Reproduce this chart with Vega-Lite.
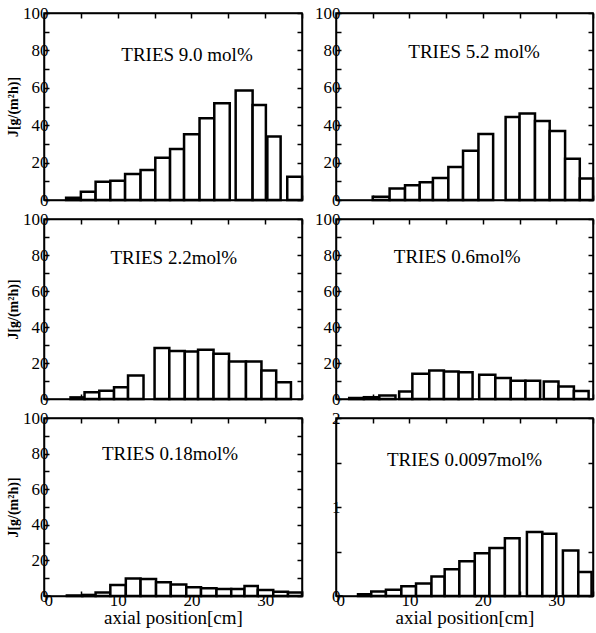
{
  "$schema": "https://vega.github.io/schema/vega-lite/v6.json",
  "padding": {"left": 5, "top": 3, "right": 0, "bottom": 0},
  "background": "white",
  "datasets": {
    "bars": [
      {"panel": "p1", "x0": 3.0, "x1": 5.0, "J": 1.2},
      {"panel": "p1", "x0": 5.0, "x1": 7.0, "J": 4.4},
      {"panel": "p1", "x0": 7.0, "x1": 9.0, "J": 9.8},
      {"panel": "p1", "x0": 9.0, "x1": 11.0, "J": 10.3},
      {"panel": "p1", "x0": 11.0, "x1": 13.1, "J": 13.9},
      {"panel": "p1", "x0": 13.1, "x1": 15.1, "J": 16.0},
      {"panel": "p1", "x0": 15.1, "x1": 17.1, "J": 22.6},
      {"panel": "p1", "x0": 17.1, "x1": 19.0, "J": 27.3},
      {"panel": "p1", "x0": 19.0, "x1": 21.1, "J": 35.1},
      {"panel": "p1", "x0": 21.1, "x1": 23.1, "J": 43.7},
      {"panel": "p1", "x0": 23.1, "x1": 25.2, "J": 51.7},
      {"panel": "p1", "x0": 26.0, "x1": 28.3, "J": 58.5},
      {"panel": "p1", "x0": 28.3, "x1": 30.1, "J": 50.8},
      {"panel": "p1", "x0": 30.3, "x1": 32.1, "J": 33.9},
      {"panel": "p1", "x0": 33.0, "x1": 35.0, "J": 12.5},
      {"panel": "p2", "x0": 5.0, "x1": 7.3, "J": 1.8},
      {"panel": "p2", "x0": 7.3, "x1": 9.4, "J": 6.2},
      {"panel": "p2", "x0": 9.4, "x1": 11.4, "J": 7.9},
      {"panel": "p2", "x0": 11.4, "x1": 13.2, "J": 9.5},
      {"panel": "p2", "x0": 13.2, "x1": 15.3, "J": 11.8},
      {"panel": "p2", "x0": 15.3, "x1": 17.3, "J": 17.6},
      {"panel": "p2", "x0": 17.3, "x1": 19.4, "J": 26.3},
      {"panel": "p2", "x0": 19.4, "x1": 21.4, "J": 35.3},
      {"panel": "p2", "x0": 23.1, "x1": 25.0, "J": 44.4},
      {"panel": "p2", "x0": 25.0, "x1": 27.1, "J": 46.2},
      {"panel": "p2", "x0": 27.1, "x1": 29.1, "J": 42.2},
      {"panel": "p2", "x0": 29.1, "x1": 31.2, "J": 36.9},
      {"panel": "p2", "x0": 31.2, "x1": 33.2, "J": 22.0},
      {"panel": "p2", "x0": 33.2, "x1": 35.0, "J": 11.5},
      {"panel": "p3", "x0": 3.6, "x1": 5.5, "J": 0.9},
      {"panel": "p3", "x0": 5.5, "x1": 7.5, "J": 3.7},
      {"panel": "p3", "x0": 7.5, "x1": 9.5, "J": 4.6},
      {"panel": "p3", "x0": 9.5, "x1": 11.4, "J": 6.5},
      {"panel": "p3", "x0": 11.4, "x1": 13.5, "J": 13.0},
      {"panel": "p3", "x0": 15.0, "x1": 17.0, "J": 28.3},
      {"panel": "p3", "x0": 17.0, "x1": 19.1, "J": 26.6},
      {"panel": "p3", "x0": 19.1, "x1": 20.9, "J": 26.4},
      {"panel": "p3", "x0": 20.9, "x1": 23.0, "J": 27.3},
      {"panel": "p3", "x0": 23.0, "x1": 25.1, "J": 25.1},
      {"panel": "p3", "x0": 25.1, "x1": 27.4, "J": 20.8},
      {"panel": "p3", "x0": 27.4, "x1": 29.5, "J": 20.8},
      {"panel": "p3", "x0": 29.5, "x1": 31.5, "J": 15.8},
      {"panel": "p3", "x0": 31.5, "x1": 33.5, "J": 9.3},
      {"panel": "p4", "x0": 1.8, "x1": 3.8, "J": 0.5},
      {"panel": "p4", "x0": 3.8, "x1": 5.9, "J": 1.0},
      {"panel": "p4", "x0": 5.9, "x1": 8.1, "J": 1.9},
      {"panel": "p4", "x0": 8.6, "x1": 10.4, "J": 4.1},
      {"panel": "p4", "x0": 10.4, "x1": 12.7, "J": 14.0},
      {"panel": "p4", "x0": 12.7, "x1": 14.7, "J": 15.9},
      {"panel": "p4", "x0": 14.7, "x1": 16.7, "J": 15.3},
      {"panel": "p4", "x0": 16.7, "x1": 18.6, "J": 14.8},
      {"panel": "p4", "x0": 19.5, "x1": 21.7, "J": 13.5},
      {"panel": "p4", "x0": 21.7, "x1": 23.8, "J": 11.6},
      {"panel": "p4", "x0": 23.8, "x1": 25.8, "J": 10.1},
      {"panel": "p4", "x0": 25.8, "x1": 27.8, "J": 10.1},
      {"panel": "p4", "x0": 28.3, "x1": 30.3, "J": 9.7},
      {"panel": "p4", "x0": 30.3, "x1": 32.4, "J": 6.9},
      {"panel": "p4", "x0": 32.4, "x1": 34.4, "J": 4.5},
      {"panel": "p5", "x0": 3.1, "x1": 5.2, "J": 0.3},
      {"panel": "p5", "x0": 5.2, "x1": 7.0, "J": 0.6},
      {"panel": "p5", "x0": 7.0, "x1": 9.0, "J": 2.0},
      {"panel": "p5", "x0": 9.0, "x1": 11.1, "J": 6.2},
      {"panel": "p5", "x0": 11.1, "x1": 13.1, "J": 9.9},
      {"panel": "p5", "x0": 13.1, "x1": 15.2, "J": 9.5},
      {"panel": "p5", "x0": 15.2, "x1": 17.2, "J": 7.7},
      {"panel": "p5", "x0": 17.2, "x1": 19.3, "J": 6.5},
      {"panel": "p5", "x0": 19.3, "x1": 21.3, "J": 4.9},
      {"panel": "p5", "x0": 21.3, "x1": 23.4, "J": 4.3},
      {"panel": "p5", "x0": 23.4, "x1": 25.4, "J": 3.9},
      {"panel": "p5", "x0": 25.4, "x1": 27.2, "J": 3.9},
      {"panel": "p5", "x0": 27.2, "x1": 29.0, "J": 5.6},
      {"panel": "p5", "x0": 29.0, "x1": 31.1, "J": 3.4},
      {"panel": "p5", "x0": 31.1, "x1": 33.1, "J": 2.4},
      {"panel": "p5", "x0": 33.1, "x1": 35.0, "J": 2.0},
      {"panel": "p6", "x0": 3.0, "x1": 4.8, "J": 0.02},
      {"panel": "p6", "x0": 4.8, "x1": 6.8, "J": 0.05},
      {"panel": "p6", "x0": 6.8, "x1": 8.9, "J": 0.07},
      {"panel": "p6", "x0": 8.9, "x1": 10.9, "J": 0.11},
      {"panel": "p6", "x0": 10.9, "x1": 13.0, "J": 0.14},
      {"panel": "p6", "x0": 13.0, "x1": 14.8, "J": 0.22},
      {"panel": "p6", "x0": 14.8, "x1": 16.8, "J": 0.30},
      {"panel": "p6", "x0": 16.8, "x1": 18.9, "J": 0.39},
      {"panel": "p6", "x0": 18.9, "x1": 20.9, "J": 0.48},
      {"panel": "p6", "x0": 20.9, "x1": 23.0, "J": 0.54},
      {"panel": "p6", "x0": 23.0, "x1": 25.0, "J": 0.65},
      {"panel": "p6", "x0": 26.0, "x1": 28.1, "J": 0.72},
      {"panel": "p6", "x0": 28.1, "x1": 30.0, "J": 0.70},
      {"panel": "p6", "x0": 30.9, "x1": 33.0, "J": 0.51},
      {"panel": "p6", "x0": 33.0, "x1": 34.8, "J": 0.27}
    ],
    "labels": [
      {"panel": "p1", "label": "TRIES 9.0 mol%"},
      {"panel": "p2", "label": "TRIES 5.2 mol%"},
      {"panel": "p3", "label": "TRIES 2.2mol%"},
      {"panel": "p4", "label": "TRIES 0.6mol%"},
      {"panel": "p5", "label": "TRIES 0.18mol%"},
      {"panel": "p6", "label": "TRIES 0.0097mol%"}
    ]
  },
  "vconcat": [
    {
      "hconcat": [
        {
          "width": 258, "height": 187,
          "layer": [
            {
              "data": {"name": "bars"},
              "transform": [{"filter": "datum.panel == 'p1'"}],
              "mark": {"type": "bar", "fill": "white", "stroke": "black", "strokeWidth": 2.5},
              "encoding": {
                "x": {"field": "x0", "type": "quantitative", "scale": {"domain": [0, 35], "nice": false, "zero": false}, "axis": {"orient": "bottom", "values": [0, 5, 10, 15, 20, 25, 30, 35], "labels": false, "title": null}},
                "x2": {"field": "x1"},
                "y": {"field": "J", "type": "quantitative", "scale": {"domain": [0, 100], "nice": false}, "axis": {"orient": "left", "values": [0, 10, 20, 30, 40, 50, 60, 70, 80, 90, 100], "labelExpr": "datum.value % 20 == 0 ? datum.label : ''", "title": "J[g/(m²h)]"}},
                "y2": {"datum": 0}
              }
            },
            {
              "data": {"name": "labels"},
              "transform": [{"filter": "datum.panel == 'p1'"}],
              "mark": {"type": "text", "fontSize": 19, "font": "Liberation Serif", "color": "black"},
              "encoding": {
                "x": {"datum": 19.4, "type": "quantitative", "scale": {"domain": [0, 35], "nice": false, "zero": false}, "axis": {"orient": "top", "values": [0, 5, 10, 15, 20, 25, 30, 35], "labels": false, "title": null}},
                "y": {"datum": 77.5, "type": "quantitative", "scale": {"domain": [0, 100], "nice": false}, "axis": {"orient": "right", "values": [0, 10, 20, 30, 40, 50, 60, 70, 80, 90, 100], "labels": false, "title": null}},
                "text": {"field": "label"}
              }
            }
          ],
          "resolve": {"axis": {"x": "independent", "y": "independent"}}
        },
        {
          "width": 257, "height": 187,
          "layer": [
            {
              "data": {"name": "bars"},
              "transform": [{"filter": "datum.panel == 'p2'"}],
              "mark": {"type": "bar", "fill": "white", "stroke": "black", "strokeWidth": 2.5},
              "encoding": {
                "x": {"field": "x0", "type": "quantitative", "scale": {"domain": [0, 35], "nice": false, "zero": false}, "axis": {"orient": "bottom", "values": [0, 5, 10, 15, 20, 25, 30, 35], "labels": false, "title": null}},
                "x2": {"field": "x1"},
                "y": {"field": "J", "type": "quantitative", "scale": {"domain": [0, 100], "nice": false}, "axis": {"orient": "left", "values": [0, 10, 20, 30, 40, 50, 60, 70, 80, 90, 100], "labelExpr": "datum.value % 20 == 0 ? datum.label : ''", "title": null, "minExtent": 28, "maxExtent": 28}},
                "y2": {"datum": 0}
              }
            },
            {
              "data": {"name": "labels"},
              "transform": [{"filter": "datum.panel == 'p2'"}],
              "mark": {"type": "text", "fontSize": 19, "font": "Liberation Serif", "color": "black"},
              "encoding": {
                "x": {"datum": 18.8, "type": "quantitative", "scale": {"domain": [0, 35], "nice": false, "zero": false}, "axis": {"orient": "top", "values": [0, 5, 10, 15, 20, 25, 30, 35], "labels": false, "title": null}},
                "y": {"datum": 79, "type": "quantitative", "scale": {"domain": [0, 100], "nice": false}, "axis": {"orient": "right", "values": [0, 10, 20, 30, 40, 50, 60, 70, 80, 90, 100], "labels": false, "title": null}},
                "text": {"field": "label"}
              }
            }
          ],
          "resolve": {"axis": {"x": "independent", "y": "independent"}}
        }
      ]
    },
    {
      "hconcat": [
        {
          "width": 258, "height": 180,
          "layer": [
            {
              "data": {"name": "bars"},
              "transform": [{"filter": "datum.panel == 'p3'"}],
              "mark": {"type": "bar", "fill": "white", "stroke": "black", "strokeWidth": 2.5},
              "encoding": {
                "x": {"field": "x0", "type": "quantitative", "scale": {"domain": [0, 35], "nice": false, "zero": false}, "axis": {"orient": "bottom", "values": [0, 5, 10, 15, 20, 25, 30, 35], "labels": false, "title": null}},
                "x2": {"field": "x1"},
                "y": {"field": "J", "type": "quantitative", "scale": {"domain": [0, 100], "nice": false}, "axis": {"orient": "left", "values": [0, 10, 20, 30, 40, 50, 60, 70, 80, 90, 100], "labelExpr": "datum.value % 20 == 0 ? datum.label : ''", "title": "J[g/(m²h)]"}},
                "y2": {"datum": 0}
              }
            },
            {
              "data": {"name": "labels"},
              "transform": [{"filter": "datum.panel == 'p3'"}],
              "mark": {"type": "text", "fontSize": 19, "font": "Liberation Serif", "color": "black"},
              "encoding": {
                "x": {"datum": 17.6, "type": "quantitative", "scale": {"domain": [0, 35], "nice": false, "zero": false}, "axis": {"orient": "top", "values": [0, 5, 10, 15, 20, 25, 30, 35], "labels": false, "title": null}},
                "y": {"datum": 78.5, "type": "quantitative", "scale": {"domain": [0, 100], "nice": false}, "axis": {"orient": "right", "values": [0, 10, 20, 30, 40, 50, 60, 70, 80, 90, 100], "labels": false, "title": null}},
                "text": {"field": "label"}
              }
            }
          ],
          "resolve": {"axis": {"x": "independent", "y": "independent"}}
        },
        {
          "width": 257, "height": 180,
          "layer": [
            {
              "data": {"name": "bars"},
              "transform": [{"filter": "datum.panel == 'p4'"}],
              "mark": {"type": "bar", "fill": "white", "stroke": "black", "strokeWidth": 2.5},
              "encoding": {
                "x": {"field": "x0", "type": "quantitative", "scale": {"domain": [0, 35], "nice": false, "zero": false}, "axis": {"orient": "bottom", "values": [0, 5, 10, 15, 20, 25, 30, 35], "labels": false, "title": null}},
                "x2": {"field": "x1"},
                "y": {"field": "J", "type": "quantitative", "scale": {"domain": [0, 100], "nice": false}, "axis": {"orient": "left", "values": [0, 10, 20, 30, 40, 50, 60, 70, 80, 90, 100], "labelExpr": "datum.value % 20 == 0 ? datum.label : ''", "title": null, "minExtent": 28, "maxExtent": 28}},
                "y2": {"datum": 0}
              }
            },
            {
              "data": {"name": "labels"},
              "transform": [{"filter": "datum.panel == 'p4'"}],
              "mark": {"type": "text", "fontSize": 19, "font": "Liberation Serif", "color": "black"},
              "encoding": {
                "x": {"datum": 16.5, "type": "quantitative", "scale": {"domain": [0, 35], "nice": false, "zero": false}, "axis": {"orient": "top", "values": [0, 5, 10, 15, 20, 25, 30, 35], "labels": false, "title": null}},
                "y": {"datum": 79, "type": "quantitative", "scale": {"domain": [0, 100], "nice": false}, "axis": {"orient": "right", "values": [0, 10, 20, 30, 40, 50, 60, 70, 80, 90, 100], "labels": false, "title": null}},
                "text": {"field": "label"}
              }
            }
          ],
          "resolve": {"axis": {"x": "independent", "y": "independent"}}
        }
      ]
    },
    {
      "hconcat": [
        {
          "width": 258, "height": 178,
          "layer": [
            {
              "data": {"name": "bars"},
              "transform": [{"filter": "datum.panel == 'p5'"}],
              "mark": {"type": "bar", "fill": "white", "stroke": "black", "strokeWidth": 2.5},
              "encoding": {
                "x": {"field": "x0", "type": "quantitative", "scale": {"domain": [0, 35], "nice": false, "zero": false}, "axis": {"orient": "bottom", "values": [0, 5, 10, 15, 20, 25, 30, 35], "labelExpr": "datum.value % 10 == 0 ? datum.label : ''", "title": "axial position[cm]"}},
                "x2": {"field": "x1"},
                "y": {"field": "J", "type": "quantitative", "scale": {"domain": [0, 100], "nice": false}, "axis": {"orient": "left", "values": [0, 10, 20, 30, 40, 50, 60, 70, 80, 90, 100], "labelExpr": "datum.value % 20 == 0 ? datum.label : ''", "title": "J[g/(m²h)]"}},
                "y2": {"datum": 0}
              }
            },
            {
              "data": {"name": "labels"},
              "transform": [{"filter": "datum.panel == 'p5'"}],
              "mark": {"type": "text", "fontSize": 19, "font": "Liberation Serif", "color": "black"},
              "encoding": {
                "x": {"datum": 17.1, "type": "quantitative", "scale": {"domain": [0, 35], "nice": false, "zero": false}, "axis": {"orient": "top", "values": [0, 5, 10, 15, 20, 25, 30, 35], "labels": false, "title": null}},
                "y": {"datum": 80, "type": "quantitative", "scale": {"domain": [0, 100], "nice": false}, "axis": {"orient": "right", "values": [0, 10, 20, 30, 40, 50, 60, 70, 80, 90, 100], "labels": false, "title": null}},
                "text": {"field": "label"}
              }
            }
          ],
          "resolve": {"axis": {"x": "independent", "y": "independent"}}
        },
        {
          "width": 257, "height": 178,
          "layer": [
            {
              "data": {"name": "bars"},
              "transform": [{"filter": "datum.panel == 'p6'"}],
              "mark": {"type": "bar", "fill": "white", "stroke": "black", "strokeWidth": 2.5},
              "encoding": {
                "x": {"field": "x0", "type": "quantitative", "scale": {"domain": [0, 35], "nice": false, "zero": false}, "axis": {"orient": "bottom", "values": [0, 5, 10, 15, 20, 25, 30, 35], "labelExpr": "datum.value % 10 == 0 ? datum.label : ''", "title": "axial position[cm]"}},
                "x2": {"field": "x1"},
                "y": {"field": "J", "type": "quantitative", "scale": {"domain": [0, 2], "nice": false}, "axis": {"orient": "left", "values": [0, 0.5, 1, 1.5, 2], "labelExpr": "datum.value % 1 == 0 ? format(datum.value, 'd') : ''", "title": null, "minExtent": 28, "maxExtent": 28}},
                "y2": {"datum": 0}
              }
            },
            {
              "data": {"name": "labels"},
              "transform": [{"filter": "datum.panel == 'p6'"}],
              "mark": {"type": "text", "fontSize": 19, "font": "Liberation Serif", "color": "black"},
              "encoding": {
                "x": {"datum": 17.5, "type": "quantitative", "scale": {"domain": [0, 35], "nice": false, "zero": false}, "axis": {"orient": "top", "values": [0, 5, 10, 15, 20, 25, 30, 35], "labels": false, "title": null}},
                "y": {"datum": 1.53, "type": "quantitative", "scale": {"domain": [0, 2], "nice": false}, "axis": {"orient": "right", "values": [0, 0.5, 1, 1.5, 2], "labels": false, "title": null}},
                "text": {"field": "label"}
              }
            }
          ],
          "resolve": {"axis": {"x": "independent", "y": "independent"}}
        }
      ]
    }
  ],
  "spacing": 0,
  "config": {
    "font": "Liberation Serif",
    "view": {"stroke": "black", "strokeWidth": 1.5},
    "concat": {"spacing": 3},
    "axis": {
      "domainColor": "black", "domainWidth": 1.5,
      "tickColor": "black", "tickWidth": 1.5, "tickSize": -5,
      "labelColor": "black", "labelFont": "Liberation Serif", "labelFontSize": 17, "labelPadding": 1,
      "grid": false,
      "titleColor": "black", "titleFont": "Liberation Serif", "titleFontWeight": "bold", "titleFontSize": 14, "titlePadding": 2
    },
    "axisBottom": {"titleFontWeight": "normal", "titleFontSize": 19, "titlePadding": 0}
  }
}
